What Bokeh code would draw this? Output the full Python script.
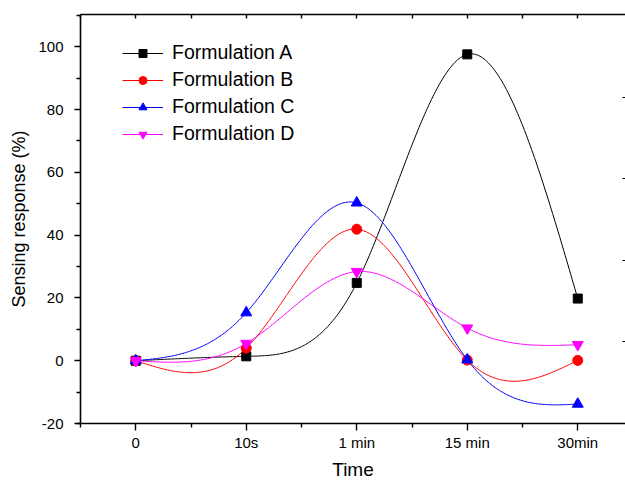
import numpy as np
from bokeh.plotting import figure
from bokeh.models import Range1d, LinearAxis, FixedTicker, Legend, LegendItem
from bokeh.embed import file_html
from bokeh.resources import INLINE

# ---- data ----
times = ["0", "10s", "1 min", "15 min", "30min"]
form_a = [0.0, 1.4, 24.8, 97.6, 19.8]
form_b = [0.0, 4.0, 41.9, 0.2, 0.1]
form_c = [0.0, 15.3, 50.3, 0.3, -13.8]
form_d = [0.0, 5.5, 28.4, 10.4, 5.1]
series_names = ["Formulation A", "Formulation B", "Formulation C", "Formulation D"]
y_ticks = [-20, 0, 20, 40, 60, 80, 100]

FONT = "Liberation Sans"


def natural_spline(ys, n=80):
    xs = np.arange(len(ys), dtype=float)
    ys = np.asarray(ys, dtype=float)
    k = len(xs)
    h = np.diff(xs)
    A = np.zeros((k, k))
    r = np.zeros(k)
    A[0, 0] = A[-1, -1] = 1.0
    for i in range(1, k - 1):
        A[i, i - 1] = h[i - 1]
        A[i, i] = 2 * (h[i - 1] + h[i])
        A[i, i + 1] = h[i]
        r[i] = 6 * ((ys[i + 1] - ys[i]) / h[i] - (ys[i] - ys[i - 1]) / h[i - 1])
    M = np.linalg.solve(A, r)
    px, py = [], []
    for i in range(k - 1):
        t = np.linspace(xs[i], xs[i + 1], n, endpoint=(i == k - 2))
        a = xs[i + 1] - t
        b = t - xs[i]
        s = (M[i] * a ** 3 / (6 * h[i]) + M[i + 1] * b ** 3 / (6 * h[i])
             + (ys[i] / h[i] - M[i] * h[i] / 6) * a
             + (ys[i + 1] / h[i] - M[i + 1] * h[i] / 6) * b)
        px.extend(t.tolist())
        py.extend(s.tolist())
    return px, py


p = figure(width=625, height=482, output_backend="svg", toolbar_location=None,
           x_range=Range1d(-0.5, 4.432), y_range=Range1d(-20, 110.3),
           min_border_left=80, min_border_top=14, min_border_right=0,
           min_border_bottom=59)
p.outline_line_color = None
p.xgrid.visible = False
p.ygrid.visible = False
p.background_fill_color = "white"
p.border_fill_color = "white"

# bottom axis
xa = p.xaxis[0]
xa.ticker = FixedTicker(ticks=list(range(len(times))),
                        minor_ticks=[i - 0.5 for i in range(len(times) + 1)])
xa.major_label_overrides = {i: t for i, t in enumerate(times)}
xa.axis_label = "Time"
# left axis
ya = p.yaxis[0]
ya.ticker = FixedTicker(ticks=y_ticks,
                        minor_ticks=[v + 10 for v in [-30] + y_ticks])
ya.major_label_overrides = {v: str(v) for v in y_ticks}
ya.axis_label = "Sensing response (%)"

for ax in (xa, ya):
    ax.axis_line_width = 1.6
    ax.axis_line_color = "black"
    ax.major_tick_line_width = 1.4
    ax.minor_tick_line_width = 1.4
    ax.major_tick_line_color = "black"
    ax.minor_tick_line_color = "black"
    ax.major_tick_in = 0
    ax.minor_tick_in = 0
    ax.major_label_text_font = FONT
    ax.major_label_text_font_size = "15px"
    ax.major_label_text_color = "black"
    ax.axis_label_text_font = FONT
    ax.axis_label_text_font_style = "normal"
    ax.axis_label_text_color = "black"

xa.major_tick_out = 7
xa.minor_tick_out = 4
xa.major_label_standoff = 3
xa.axis_label_text_font_size = "19px"
xa.axis_label_standoff = 5

ya.major_tick_out = 6
ya.minor_tick_out = 4
ya.major_label_standoff = 11
ya.axis_label_text_font_size = "18px"
ya.axis_label_standoff = 6

# top axis (ticks inward, no labels)
top_ticks = [i * 0.5 - 0.5 for i in range(11)]
top = LinearAxis(ticker=FixedTicker(ticks=top_ticks))
top.axis_line_width = 1.6
top.axis_line_color = "black"
top.major_tick_in = 4
top.major_tick_out = 0
top.minor_tick_in = 0
top.minor_tick_out = 0
top.major_tick_line_width = 1.4
top.major_label_overrides = {t: "" for t in top_ticks}
top.major_label_text_font_size = "6px"
top.major_label_text_color = None
top.major_label_standoff = 0
p.add_layout(top, "above")

# right axis (only inner ticks visible at the cropped edge)
right_ticks = [1, 2, 3, 4]
p.extra_y_ranges = {"r": Range1d(-0.01, 5.02)}
right = LinearAxis(y_range_name="r", ticker=FixedTicker(ticks=right_ticks))
right.axis_line_color = None
right.major_tick_in = 3
right.major_tick_out = 0
right.minor_tick_in = 0
right.minor_tick_out = 0
right.major_tick_line_width = 1.2
right.major_label_overrides = {t: "" for t in right_ticks}
right.major_label_text_font_size = "6px"
right.major_label_text_color = None
right.major_label_standoff = 0
p.add_layout(right, "right")

colors = ["black", "#ff0000", "#0000ff", "#ff00ff"]
markers = ["square", "circle", "triangle", "inverted_triangle"]
sizes = [9, 10, 11, 11]
data = [form_a, form_b, form_c, form_d]
xs = list(range(len(times)))

items = []
for name, ys, c, m, s in zip(series_names, data, colors, markers, sizes):
    sx, sy = natural_spline(ys)
    ln = p.line(sx, sy, line_color=c, line_width=1)
    sc = p.scatter(xs, ys, marker=m, size=s, fill_color=c, line_color=c)
    items.append(LegendItem(label=name, renderers=[ln, sc]))

legend = Legend(items=items, location=(42, 278))
legend.border_line_color = None
legend.background_fill_alpha = 0
legend.padding = 0
legend.margin = 0
legend.spacing = 4
legend.glyph_width = 41
legend.glyph_height = 20
legend.label_height = 20
legend.label_standoff = 9
legend.label_text_font = FONT
legend.label_text_font_size = "19.5px"
legend.label_text_color = "black"
p.add_layout(legend)

open("out.html", "w").write(file_html(p, INLINE))
